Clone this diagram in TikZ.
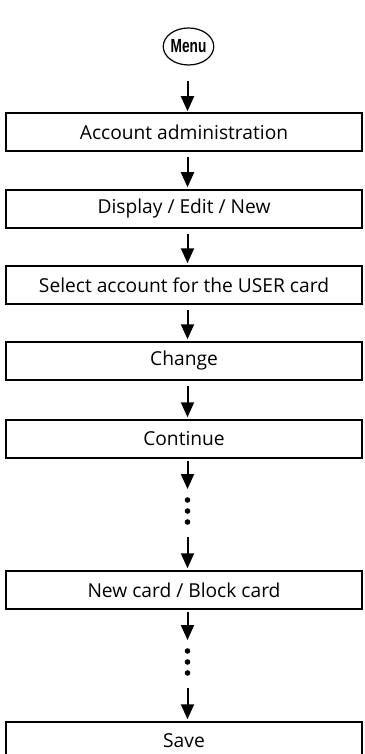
\documentclass[tikz,border=0pt]{standalone}
\usepackage{fontspec}
\setmainfont{Open Sans}
\newfontfamily\menufont{Liberation Sans}
\usetikzlibrary{arrows.meta,shapes.geometric}
\begin{document}
\begin{tikzpicture}[x=0.5pt,y=-0.5pt,
  box/.style={draw, line width=0.75pt, minimum width=178pt, minimum height=19pt,
    inner sep=0pt, font=\fontsize{9.6}{12}\selectfont},
  menubox/.style={draw, ellipse, line width=0.6pt, minimum width=21pt, minimum height=18.5pt,
    inner sep=0pt, font=\menufont\bfseries\fontsize{9.5}{11}\selectfont},
  arr/.style={line width=1pt, -{Triangle[width=6.5pt,length=7.5pt]},
    shorten <=2.5pt, shorten >=1pt},
  dot/.style={circle, fill, inner sep=0pt, minimum size=2.8pt}
]
\useasboundingbox (0,0) rectangle (364,754);
\coordinate (ax) at (187.5,0);
\node[menubox] (menu) at (188.5,46.5) {\scalebox{0.72}[1]{Menu}};
\node[box] (b1) at (184,132) {Account administration};
\node[box] (b2) at (184,209) {Display / Edit / New};
\node[box] (b3) at (184,285) {Select account for the USER card};
\node[box] (b4) at (184,361) {Change};
\node[box] (b5) at (184,439) {Continue};
\node[box] (b6) at (184,590) {New card / Block card};
\node[box] (b7) at (184,741) {Save};
% dots section 1
\coordinate (d1a) at (187.5,489);
\node[dot] (p1) at (187.5,500) {};
\node[dot] (p2) at (187.5,511) {};
\node[dot] (p3) at (187.5,522) {};
\coordinate (d1b) at (187.5,537);
% dots section 2
\coordinate (d2a) at (187.5,640);
\node[dot] (q1) at (187.5,651) {};
\node[dot] (q2) at (187.5,662) {};
\node[dot] (q3) at (187.5,673) {};
\coordinate (d2b) at (187.5,688);
% arrows
\draw[arr, shorten <=7.5pt, shorten >=0.5pt] (menu.south -| ax) -- (b1.north -| ax);
\draw[arr] (b1.south -| ax) -- (b2.north -| ax);
\draw[arr] (b2.south -| ax) -- (b3.north -| ax);
\draw[arr] (b3.south -| ax) -- (b4.north -| ax);
\draw[arr] (b4.south -| ax) -- (b5.north -| ax);
\draw[arr, shorten <=1pt, shorten >=0pt] (b5.south -| ax) -- (d1a);
\draw[arr, shorten <=0pt] (d1b) -- (b6.north -| ax);
\draw[arr, shorten <=1pt, shorten >=0pt] (b6.south -| ax) -- (d2a);
\draw[arr, shorten <=0pt] (d2b) -- (b7.north -| ax);
\end{tikzpicture}
\end{document}
